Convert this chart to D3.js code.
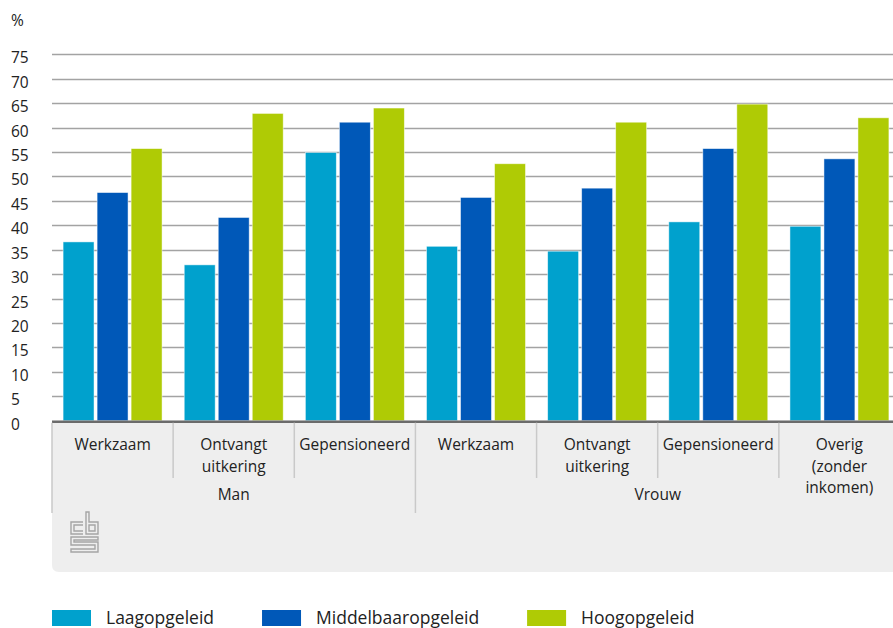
<!DOCTYPE html>
<html>
<head>
<meta charset="utf-8">
<script src="https://cdn.jsdelivr.net/npm/d3@7"></script>
<style>
    body { margin: 0; background: #fff; }
    svg { display: block; font-family: 'Open Sans', sans-serif; }
</style>
</head>
<body>
<svg width="893" height="628"></svg>
<script>
(function () {
    // data
    const categories = [
        ['Werkzaam'],
        ['Ontvangt', 'uitkering'],
        ['Gepensioneerd'],
        ['Werkzaam'],
        ['Ontvangt', 'uitkering'],
        ['Gepensioneerd'],
        ['Overig', '(zonder', 'inkomen)']
    ];
    const genders = ['Man', 'Vrouw'];
    const genderSizes = [3, 4];
    const series = ['Laagopgeleid', 'Middelbaaropgeleid', 'Hoogopgeleid'];
    const laag = [36.6, 31.9, 54.9, 35.7, 34.7, 40.7, 39.8];
    const middel = [46.7, 41.6, 61.1, 45.7, 47.6, 55.7, 53.6];
    const hoog = [55.7, 62.9, 64.0, 52.6, 61.1, 64.8, 62.0];
    const yTicks = [0, 5, 10, 15, 20, 25, 30, 35, 40, 45, 50, 55, 60, 65, 70, 75];

    const colors = ['#00a1cd', '#0058b8', '#afcb05'];
    const values = [laag, middel, hoog];

    const svg = d3.select('svg');
    const left = 52, right = 900, top = 54.3, bottom = 420.7;

    const x0 = d3.scaleBand()
            .domain(d3.range(categories.length))
            .range([left, right])
            .paddingInner(0.183)
            .paddingOuter(0.0915);
    const x1 = d3.scaleBand()
            .domain(series)
            .range([0, x0.bandwidth()])
            .paddingInner(0.09);
    const y = d3.scaleLinear()
            .domain([0, 75])
            .range([bottom, top]);
    const color = d3.scaleOrdinal(series, colors);

    // category panel below the axis
    const panelBottom = 572;
    svg.append('path')
        .attr('fill', '#eeeeee')
        .attr('d', `M${left},${bottom} H893 V${panelBottom} H${left + 7} Q${left},${panelBottom} ${left},${panelBottom - 7} Z`);

    // grid
    svg.append('g')
        .selectAll('line')
        .data(yTicks.filter(d => d > 0))
        .enter().append('line')
        .attr('x1', left)
        .attr('x2', 893)
        .attr('y1', d => Math.round(y(d)) + 0.5)
        .attr('y2', d => Math.round(y(d)) + 0.5)
        .attr('stroke', '#a3a3a3')
        .attr('stroke-width', 1.4);

    svg.append('g')
        .selectAll('text')
        .data(yTicks)
        .enter().append('text')
        .attr('x', 11)
        .attr('y', d => y(d) + 9)
        .attr('font-size', 15.5)
        .attr('fill', '#222')
        .text(d => d);

    svg.append('text')
        .attr('x', 11)
        .attr('y', 26)
        .attr('font-size', 15.5)
        .attr('fill', '#222')
        .text('%');

    // bars
    const groups = svg.append('g')
            .selectAll('g')
            .data(categories.map((c, i) => i))
            .enter().append('g')
            .attr('transform', i => `translate(${x0(i)},0)`);

    groups.selectAll('rect')
        .data(i => series.map((s, k) => ({ s: s, v: values[k][i] })))
        .enter().append('rect')
        .attr('x', d => x1(d.s))
        .attr('y', d => y(d.v))
        .attr('width', x1.bandwidth())
        .attr('height', d => bottom - y(d.v))
        .attr('fill', d => color(d.s))
        .attr('stroke', '#ffffff')
        .attr('stroke-opacity', 0.6)
        .attr('stroke-width', 0.8);

    // axis line
    svg.append('line')
        .attr('x1', left)
        .attr('x2', 893)
        .attr('y1', bottom + 1)
        .attr('y2', bottom + 1)
        .attr('stroke', '#6b6b6b')
        .attr('stroke-width', 2.5);

    // dividers between categories and genders
    const step = x0.step();
    const starts = [0];
    genderSizes.forEach((n, i) => starts.push(starts[i] + n));

    svg.append('g')
        .selectAll('line')
        .data(d3.range(1, categories.length).filter(i => !starts.includes(i)))
        .enter().append('line')
        .attr('x1', i => left + i * step)
        .attr('x2', i => left + i * step)
        .attr('y1', bottom + 2)
        .attr('y2', 478)
        .attr('stroke', '#c9c9c9')
        .attr('stroke-width', 1.5);

    svg.append('g')
        .selectAll('line')
        .data(starts.slice(0, genders.length))
        .enter().append('line')
        .attr('x1', i => left + i * step)
        .attr('x2', i => left + i * step)
        .attr('y1', bottom + 2)
        .attr('y2', 513)
        .attr('stroke', '#c9c9c9')
        .attr('stroke-width', 1.5);

    // category labels
    const catText = svg.append('g')
            .selectAll('text')
            .data(categories)
            .enter().append('text')
            .attr('text-anchor', 'middle')
            .attr('font-size', 15.5)
            .attr('fill', '#222');
    catText.selectAll('tspan')
        .data((d, i) => d.map(t => ({ t: t, i: i })))
        .enter().append('tspan')
        .attr('x', d => left + (d.i + 0.5) * step)
        .attr('y', (d, j) => 450 + j * 21.5)
        .text(d => d.t);

    svg.append('g')
        .selectAll('text')
        .data(genders)
        .enter().append('text')
        .attr('text-anchor', 'middle')
        .attr('x', (d, i) => left + (starts[i] + genderSizes[i] / 2) * step)
        .attr('y', 500)
        .attr('font-size', 15.5)
        .attr('fill', '#222')
        .text(d => d);

    // cbs logo
    svg.append('path')
        .attr('transform', 'translate(70,511)')
        .attr('fill', 'none')
        .attr('stroke', '#a5a5a5')
        .attr('stroke-width', 1.4)
        .attr('d', 'M13,11 H1 V23 H13 M13,14 H4 V20 H13 ' +
                   'M16,23 V1 H19 V11 H28 V23 Z M19,14 H25 V20 H19 Z ' +
                   'M28,26 H1 V34 H25 V38 H1 V41 H28 V31 H4 V29 H28 Z');

    // legend
    const legend = svg.append('g');
    let lx = 52;
    series.forEach((s, k) => {
        legend.append('rect')
            .attr('x', lx)
            .attr('y', 610)
            .attr('width', 39)
            .attr('height', 16)
            .attr('fill', color(s));
        const t = legend.append('text')
            .attr('x', lx + 54)
            .attr('y', 624)
            .attr('font-size', 17.5)
            .attr('fill', '#222')
            .text(s);
        lx = lx + 54 + t.node().getComputedTextLength() + 48;
    });
})();
</script>
</body>
</html>
